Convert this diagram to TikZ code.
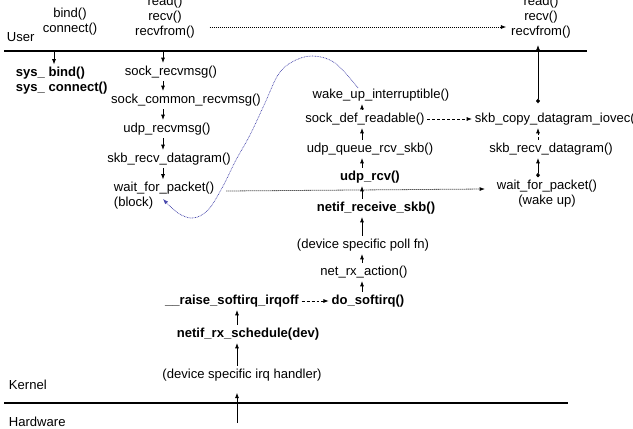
\documentclass[tikz,border=0pt]{standalone}
\usepackage{fontspec}
\setmainfont{Liberation Sans}
\usetikzlibrary{arrows.meta}
\definecolor{wakeblue}{RGB}{72,72,172}

\begin{document}
\begin{tikzpicture}[x=0.75pt,y=-0.75pt,
    font=\fontsize{9.8}{11.25}\selectfont,
    every node/.style={inner sep=2pt},
    bfn/.style={font=\fontsize{9.8}{11.25}\selectfont\bfseries},
    arr/.style={line width=0.6pt,-{Latex[length=4pt,width=3pt]}},
    link/.style={line width=0.6pt,{Latex[length=4pt,width=3pt]}-{Diamond[length=3.5pt,width=3pt]}},
    dotarr/.style={line width=0.6pt,dash pattern=on 0.75pt off 0.75pt,-{Latex[length=4pt,width=3pt]}},
    dasharr/.style={line width=0.6pt,dash pattern=on 2.2pt off 1.5pt,-{Latex[length=4pt,width=3pt]}},
    layer/.style={line width=0.8pt}]
  \useasboundingbox (0,0) rectangle (633,429);

  % layers
  \coordinate (ul) at (4,51);
  \coordinate (ur) at (587,51);
  \coordinate (kl) at (4,403);
  \coordinate (kr) at (568,403);
  \draw[layer] (ul) -- (ur);
  \draw[layer] (kl) -- (kr);
  \node[anchor=west] (user) at (4,37) {User};
  \node[anchor=west] (kern) at (6,385) {Kernel};
  \node[anchor=west] (hw) at (6,422) {Hardware};

  % user calls
  \node[align=center] (bind) at (70,22) {bind()\\connect()};
  \node[align=center] (rdl) at (165,17) {read()\\recv()\\recvfrom()};
  \node[align=center] (rdr) at (541,17) {read()\\recv()\\recvfrom()};

  % receive path (block)
  \node[bfn,align=left,anchor=west] (sys) at (13,81) {sys\_ bind()\\sys\_ connect()};
  \node (srm) at (171,72) {sock\_recvmsg()};
  \node (scr) at (186,100) {sock\_common\_recvmsg()};
  \node (urm) at (167,129) {udp\_recvmsg()};
  \node (srd) at (169,159) {skb\_recv\_datagram()};
  \node[align=left,anchor=west] (wfp) at (111,196) {wait\_for\_packet()\\(block)};

  % softirq path
  \node (wku) at (381,95) {wake\_up\_interruptible()};
  \node (sdr) at (365,119) {sock\_def\_readable()};
  \node (uqr) at (370,149) {udp\_queue\_rcv\_skb()};
  \node[bfn] (urc) at (370,177) {udp\_rcv()};
  \node[bfn] (nrs) at (376,208) {netif\_receive\_skb()};
  \node (pol) at (363,245) {(device specific poll fn)};
  \node (nra) at (364,272) {net\_rx\_action()};
  \node[bfn] (dsi) at (368,301) {do\_softirq()};
  \node[bfn] (rsi) at (232,301) {\_\_raise\_softirq\_irqoff};
  \node[bfn] (nrx) at (248,334) {netif\_rx\_schedule(dev)};
  \node (irq) at (242,375) {(device specific irq handler)};

  % receive path (wake up)
  \node[anchor=west] (sdc) at (472,119) {skb\_copy\_datagram\_iovec()};
  \node (srr) at (551,149) {skb\_recv\_datagram()};
  \node[align=center] (wfr) at (547,194) {wait\_for\_packet()\\(wake up)};

  % arrows
  \coordinate (bx) at (54,51);
  \coordinate (lx) at (163,51);
  \coordinate (mx) at (362,0);
  \coordinate (qx) at (237,423);
  \coordinate (rx) at (538,0);
  \draw[arr] (bx) -- (bx |- sys.north);
  \draw[arr] (lx) -- (lx |- srm.north);
  \draw[arr] (lx |- srm.south) -- (lx |- scr.north);
  \draw[arr] (lx |- scr.south) -- (lx |- urm.north);
  \draw[arr] (lx |- urm.south) -- (lx |- srd.north);
  \draw[arr] (lx |- srd.south) -- (lx |- wfp.north);

  \draw[arr] (qx) -- ([yshift=-6.5pt]qx |- irq.south);
  \draw[arr] (qx |- irq.north) -- (qx |- nrx.south);
  \draw[arr] (qx |- nrx.north) -- (qx |- rsi.south);
  \draw[dasharr] (rsi.east) -- (dsi.west);
  \draw[arr] (mx |- dsi.north) -- (mx |- nra.south);
  \draw[arr] (mx |- nra.north) -- (mx |- pol.south);
  \draw[arr] (mx |- pol.north) -- (mx |- nrs.south);
  \draw[arr] (mx |- nrs.north) -- (mx |- urc.south);
  \draw[arr] (mx |- urc.north) -- (mx |- uqr.south);
  \draw[arr] (mx |- uqr.north) -- (mx |- sdr.south);
  \draw[arr] (mx |- sdr.north) -- (mx |- wku.south);
  \draw[dasharr] (sdr.east) -- (sdc.west);

  \draw[link] ([yshift=-3pt]rx |- rdr.south) -- ([yshift=5pt]rx |- sdc.north);
  \draw[dasharr] (rx |- srr.north) -- (rx |- sdc.south);
  \draw[link] (rx |- srr.south) -- (rx |- wfr.north);

  \draw[dotarr] ([xshift=9pt,yshift=-7.5pt]rdl.east) -- ([xshift=-1.5pt,yshift=-7.5pt]rdr.west);
  \draw[dotarr] ([xshift=7pt,yshift=3.75pt]wfp.east) -- ([xshift=-6.75pt,yshift=3.75pt]wfr.west);

  % wake up
  \draw[wakeblue,line width=0.5pt,dash pattern=on 0.6pt off 0.6pt,-{Latex[length=4pt,width=3pt]}]
    plot[smooth,tension=0.6] coordinates {(358,88) (335,63) (312,56) (292,62) (278,75) (265,103)
      (250,135) (236,160) (222,188) (208,210) (193,218) (178,213) (163,199)};
\end{tikzpicture}
\end{document}
